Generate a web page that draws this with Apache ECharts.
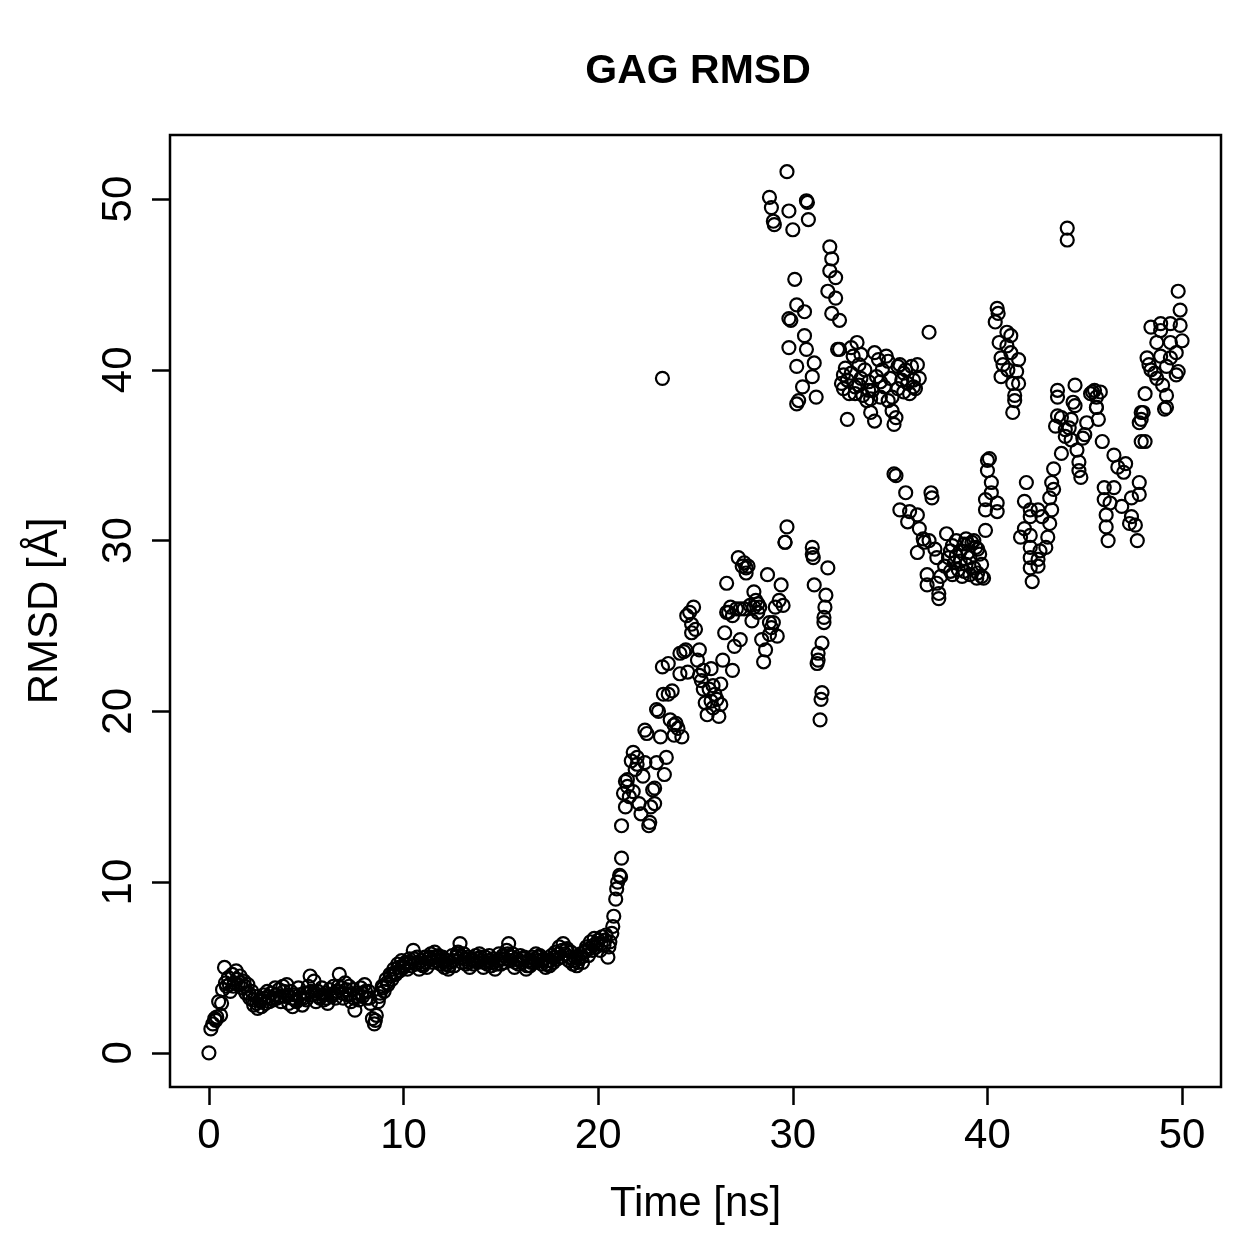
<!DOCTYPE html>
<html>
<head>
<meta charset="utf-8">
<title>GAG RMSD</title>
<script src="https://cdn.jsdelivr.net/npm/echarts@6/dist/echarts.min.js"></script>
<style>
  html, body { margin: 0; padding: 0; background: #fff; }
  #chart { width: 1259px; height: 1259px; }
</style>
</head>
<body>
<div id="chart"></div>
<script>
// RMSD values, [time ns, RMSD A]
const equilibration = [
  [0.0,0.0],[0.1,1.4],[0.2,1.7],[0.3,2.0],[0.4,2.1],[0.5,3.0],[0.6,2.2],[0.7,3.7],[0.8,5.0],[0.9,3.9],
  [1.0,4.4],[1.1,3.6],[1.2,4.6],[1.3,4.1],[1.4,4.8],[1.5,4.0],[1.6,4.5],[1.7,3.8],[1.8,4.2],[1.9,3.5],
  [2.0,4.0],[2.1,3.2],[2.2,3.6],[2.3,2.8],[2.4,3.3],[2.5,2.6],[2.6,3.1],[2.7,2.7],[2.8,3.4],[2.9,2.9],
  [3.0,3.6],[3.1,3.0],[3.2,3.5],[3.3,3.1],[3.4,3.8],[3.5,3.2],[3.6,3.7],[3.7,3.0],[3.8,3.9],[3.9,3.3],
  [4.0,4.0],[4.1,2.9],[4.2,3.6],[4.3,2.7],[4.4,3.4],[4.5,3.0],[4.6,3.8],[4.7,3.2],[4.8,2.8],[4.9,3.5],
  [5.0,3.1],[5.1,3.9],[5.2,4.5],[5.3,3.4],[5.4,4.2],[5.5,3.0],[5.6,3.6],[5.7,3.2],[5.8,3.8],[5.9,3.1],
  [6.0,3.5],[6.1,2.9],[6.2,3.7],[6.3,3.3],[6.4,3.9],[6.5,3.2],[6.6,3.6],[6.7,4.6],[6.8,3.8],[6.9,3.2],
  [7.0,4.1],[7.1,3.4],[7.2,3.9],[7.3,3.0],[7.4,3.7],[7.5,2.5],[7.6,3.5],[7.7,3.1],[7.8,3.8],[7.9,3.3],
  [8.0,4.0],[8.1,3.2],[8.2,3.6],[8.3,2.9],[8.4,2.0],[8.5,1.7],[8.6,2.2],[8.7,3.0],[8.8,3.5],[8.9,3.9],
  [9.0,3.6],[9.1,4.3],[9.2,4.0],[9.3,4.6],[9.4,4.3],[9.5,4.9],[9.6,4.6],[9.7,5.2],[9.8,4.8],[9.9,5.4],
  [10.0,5.0],[10.1,5.3],[10.2,4.9],[10.3,5.5],[10.4,5.1],[10.5,6.0],[10.6,5.2],[10.7,5.6],[10.8,4.9],[10.9,5.4],
  [11.0,5.1],[11.1,5.6],[11.2,5.0],[11.3,5.5],[11.4,5.8],[11.5,5.3],[11.6,5.9],[11.7,5.4],[11.8,5.7],[11.9,5.2],
  [12.0,5.6],[12.1,5.0],[12.2,5.4],[12.3,4.9],[12.4,5.3],[12.5,5.7],[12.6,5.1],[12.7,5.6],[12.8,5.9],[12.9,6.4],
  [13.0,5.3],[13.1,5.8],[13.2,5.2],[13.3,5.6],[13.4,5.0],[13.5,5.5],[13.6,5.2],[13.7,5.7],[13.8,5.3],[13.9,5.8],
  [14.0,5.4],[14.1,5.0],[14.2,5.6],[14.3,5.2],[14.4,5.7],[14.5,5.1],[14.6,5.5],[14.7,4.9],[14.8,5.4],[14.9,5.8],
  [15.0,5.2],[15.1,5.7],[15.2,5.3],[15.3,6.0],[15.4,6.4],[15.5,5.4],[15.6,5.8],[15.7,5.0],[15.8,5.5],[15.9,5.2],
  [16.0,5.7],[16.1,5.3],[16.2,5.6],[16.3,4.9],[16.4,5.4],[16.5,5.1],[16.6,5.6],[16.7,5.3],[16.8,5.8],[16.9,5.4],
  [17.0,5.7],[17.1,5.2],[17.2,5.5],[17.3,5.0],[17.4,5.4],[17.5,5.1],[17.6,5.7],[17.7,5.3],[17.8,5.9],[17.9,5.5],
  [18.0,6.2],[18.1,5.6],[18.2,6.4],[18.3,5.8],[18.4,6.1],[18.5,5.4],[18.6,5.9],[18.7,5.2],[18.8,5.6],[18.9,5.1],
  [19.0,5.5],[19.1,5.8],[19.2,5.3],[19.3,5.9],[19.4,6.2],[19.5,5.7],[19.6,6.5],[19.7,6.0],[19.8,6.7],[19.9,6.2],
  [20.0,6.6],[20.1,6.0],[20.2,6.8],[20.3,6.3],[20.4,6.9],[20.5,5.6],[20.6,6.5],[20.7,7.0],[20.8,8.0],[20.9,9.0],
  [21.0,10.0],[21.1,10.4],[21.2,11.4]
];

// in-between frames of the same stretch (band edges)
const equilibrationMid = [
  [0.35,1.9],[0.65,2.9],[0.85,4.1],[1.05,4.0],[1.25,3.9],[1.45,4.3],[1.65,4.1],[1.85,3.9],[2.05,3.5],[2.25,3.1],
  [2.45,2.9],[2.65,3.0],[2.85,3.2],[3.05,3.3],[3.25,3.2],[3.45,3.4],[3.65,3.3],[3.85,3.6],[4.05,3.4],[4.25,3.2],
  [4.45,3.1],[4.65,3.4],[4.85,3.2],[5.05,3.5],[5.25,3.6],[5.45,3.5],[5.65,3.3],[5.85,3.4],[6.05,3.2],[6.25,3.4],
  [6.45,3.5],[6.65,3.9],[6.85,3.5],[7.05,3.7],[7.25,3.4],[7.45,3.2],[7.65,3.3],[7.85,3.5],[8.05,3.6],[8.25,3.2],
  [8.55,1.9],[8.75,3.3],[8.95,3.8],[9.15,4.1],[9.35,4.5],[9.55,4.7],[9.75,5.0],[9.95,5.1],[10.15,5.2],[10.35,5.3],
  [10.55,5.5],[10.75,5.3],[10.95,5.2],[11.15,5.3],[11.35,5.6],[11.55,5.6],[11.75,5.6],[11.95,5.4],[12.15,5.2],[12.35,5.1],
  [12.55,5.4],[12.75,5.8],[12.95,5.6],[13.15,5.5],[13.35,5.3],[13.55,5.4],[13.75,5.5],[13.95,5.6],[14.15,5.3],[14.35,5.4],
  [14.55,5.3],[14.75,5.2],[14.95,5.5],[15.15,5.5],[15.35,5.8],[15.55,5.6],[15.75,5.3],[15.95,5.4],[16.15,5.5],[16.35,5.1],
  [16.55,5.3],[16.75,5.5],[16.95,5.6],[17.15,5.4],[17.35,5.2],[17.55,5.4],[17.75,5.6],[17.95,5.8],[18.15,6.0],[18.35,6.0],
  [18.55,5.6],[18.75,5.4],[18.95,5.3],[19.15,5.6],[19.35,6.0],[19.55,6.1],[19.75,6.3],[19.95,6.4],[20.15,6.4],[20.35,6.6],
  [20.55,6.2],[20.75,7.4],[20.95,9.6],[21.15,10.3]
];

const rise = [
  [21.2,13.3],[21.3,15.2],[21.4,15.9],[21.4,14.4],[21.5,16.0],[21.6,15.0],[21.7,17.1],[21.8,17.6],[21.9,16.6],
  [22.0,17.3],[22.1,14.6],[22.2,14.0],[22.3,16.2],[22.4,18.9],[22.5,18.7],[22.6,13.3],[22.65,13.5],[22.7,14.4],
  [22.8,15.4],[22.9,15.5],[23.0,17.0],[23.1,20.0],[23.2,18.5],[23.3,22.6],[23.35,21.0],[23.4,16.3],[23.5,17.3],
  [23.6,22.8],[23.7,19.5],[23.8,21.2],[23.9,18.6],[24.0,19.3],[24.1,19.0],[24.2,22.2],[24.3,18.5],[24.4,23.5],
  [24.5,23.6],[24.55,25.6],[24.7,25.8],[24.8,24.6],[24.9,26.1],[25.0,24.8],[25.1,23.0],[25.2,23.6],[25.3,21.8],
  [25.4,21.3],[25.5,20.5],[25.6,19.8],[25.7,21.3],[25.8,22.5],[25.9,20.2],[26.0,21.0],[26.1,20.7],[26.2,19.7],
  [26.3,21.6],[26.4,23.0],[26.5,24.6],[26.6,27.5],[26.7,25.8],[26.8,26.1],[26.9,22.4],[27.0,23.8],[27.1,26.0],
  [27.2,29.0],[27.3,24.2],[27.4,28.5],[27.5,28.7],[27.6,28.1],[27.7,28.5],[27.8,26.2],[27.9,25.3],[28.0,27.0],
  [28.1,26.5],[28.2,25.8],[28.3,26.1],[28.4,24.2],[28.5,22.9],[28.6,23.6],[28.7,28.0],[28.8,24.5],[28.9,24.9],
  [29.0,25.2],[29.1,26.1],[29.2,24.4],[29.3,26.5],[29.4,27.4],[29.5,26.2],[29.6,29.9],[29.7,30.8],
  [21.8,15.3],[22.4,17.0],[23.0,20.1],[23.6,21.0],[24.2,23.4],[24.8,25.1],[25.4,22.4],[25.9,21.5],
  [26.6,25.8],[27.3,26.0],[27.6,28.4],[28.2,26.3],[28.8,25.2],[21.5,15.6],[22.0,16.9],[22.9,14.6],
  [23.9,19.2],[24.6,22.3],[25.2,22.1],[25.8,20.6],[26.3,20.4],[26.9,25.6],[27.5,26.0],[28.0,26.1]
];

const isolated = [[23.3,39.5]];

const upperStates = [
  [28.8,50.1],[28.9,49.5],[29.0,48.7],[29.05,48.5],[29.7,51.6],[29.8,49.3],[30.0,48.2],[30.1,45.3],
  [30.2,43.8],[30.6,43.4],[29.8,43.0],[29.9,42.9],[30.6,42.0],[29.8,41.3],[30.7,41.2],[31.1,40.4],
  [30.2,40.2],[31.0,39.6],[30.5,39.0],[30.3,38.2],[30.2,38.0],[31.2,38.4],[30.7,49.9],[30.8,48.8],
  [30.75,49.8],[31.9,47.2],[32.0,46.5],[31.9,45.8],[32.2,45.4],[31.8,44.6],[32.2,44.2],[32.0,43.3],
  [32.4,42.9],[32.3,41.2],[32.8,37.1],
  [32.4,41.2],[32.5,39.2],[32.6,38.9],[32.7,40.1],[32.8,39.4],[32.9,38.6],[33.0,39.8],[33.1,40.8],
  [33.2,39.0],[33.3,41.6],[33.4,40.3],[33.5,39.5],[33.6,38.5],[33.7,40.0],[33.8,38.2],[33.9,39.3],
  [34.0,37.5],[34.1,38.8],[34.2,37.0],[34.3,39.6],[34.4,40.6],[34.5,38.4],[34.6,40.0],[34.7,39.0],
  [34.8,40.8],[34.9,38.2],[35.0,39.5],[35.1,37.6],[35.2,36.8],[35.3,37.2],[35.4,38.9],[35.5,40.3],
  [35.6,39.4],[35.7,38.7],[35.8,40.0],[35.9,39.2],[36.0,38.6],[36.1,40.2],[36.2,39.0],[36.3,38.9],
  [36.4,40.3],[36.5,39.5],[33.5,40.9],[34.2,41.0],[34.9,40.5],[35.4,40.2],[33.0,41.3],[32.6,39.7],
  [33.2,38.6],[33.9,38.8],[34.5,39.3],[35.1,38.4],[35.7,39.8],[36.2,39.4],[34.0,38.3],[33.4,39.1],
  [37.0,42.2],
  [40.5,43.6],[40.55,43.3],[40.4,42.8],[41.0,42.2],[40.6,41.6],[41.0,41.4],[40.7,40.7],[41.6,40.6],
  [41.05,40.0],[40.7,39.6],[41.5,39.9],[41.3,39.2],[41.6,39.2],[41.4,38.5],[41.4,38.2],[41.3,37.5],
  [40.8,40.3],[41.2,41.0],[41.2,42.0],
  [44.1,48.3],[44.1,47.6],
  [43.6,38.8],[43.6,38.4],[44.5,39.1],[44.4,38.1],[45.5,38.8],[45.6,38.4],[45.6,37.8],
  [49.8,44.6],[49.9,43.5],[48.4,42.5],[48.9,42.7],[48.9,42.3],[49.4,42.7],[49.9,42.6],[50.0,41.7],
  [48.7,41.6],[49.4,41.6],[49.7,41.0],[48.2,40.7],[48.9,40.8],[49.4,40.7],[48.4,40.0],[49.2,40.2],
  [49.7,39.7],[48.7,39.5],[49.0,39.1],[48.1,38.6],[49.2,38.5],[49.2,37.8],[48.0,37.5],[48.6,39.8],
  [49.8,39.9],[48.3,40.3]
];

const lowerStates = [
  [29.6,29.9],[31.0,29.6],[31.0,29.2],[31.05,29.0],[31.8,28.4],[31.1,27.4],[31.7,26.8],[31.65,26.1],
  [31.6,25.5],[31.6,25.2],[31.5,24.0],[31.3,23.4],[31.3,23.0],[31.25,22.8],[31.5,21.1],[31.45,20.7],[31.4,19.5],
  [35.2,33.9],[35.3,33.8],[35.8,32.8],[35.5,31.8],[36.0,31.7],[36.4,31.5],[35.9,31.1],[36.5,30.7],
  [36.7,30.1],[36.75,29.9],[37.0,30.0],[36.4,29.3],[37.3,29.5],[37.4,29.0],[36.9,28.0],[36.9,27.4],
  [37.4,27.5],[37.5,26.9],[37.5,26.6],[37.6,27.9],[37.9,30.4],[37.1,32.8],[37.15,32.5],[37.8,28.5],
  [38.0,29.0],[38.1,28.2],[38.2,29.7],[38.3,28.7],[38.4,30.0],[38.5,28.3],[38.6,29.4],[38.7,27.9],
  [38.8,29.8],[38.9,28.6],[39.0,29.3],[39.1,28.0],[39.2,29.9],[39.3,28.4],[39.4,29.6],[39.5,28.1],
  [39.6,29.2],[39.7,27.9],[39.8,27.8],[39.9,30.6],[38.2,28.0],[38.6,28.8],[39.1,29.0],[39.3,30.0],
  [39.45,27.8],[38.9,30.1],[38.4,29.1],[38.8,28.2],[39.0,29.8],[39.5,29.5],[38.1,29.4],[39.7,28.6],
  [40.0,34.7],[40.0,34.1],[40.2,33.4],[40.2,32.8],[39.9,32.4],[39.9,31.8],[40.5,32.2],[40.5,31.7],
  [40.1,34.8],
  [42.0,33.4],[41.9,32.3],[42.2,31.8],[42.2,31.4],[42.6,31.8],[42.8,31.4],[41.9,30.7],[41.7,30.2],
  [42.2,30.3],[42.2,29.6],[42.7,29.4],[43.0,29.6],[42.2,29.0],[42.6,28.9],[42.2,28.4],[42.6,28.5],
  [42.3,27.6],[43.1,30.2],[43.2,31.0],[43.3,31.8],[43.2,32.5],[43.4,33.0],[43.3,33.4],[43.4,34.2],
  [43.8,35.1],[43.5,36.7],[43.8,37.2],[43.6,37.3],[44.0,36.5],[44.0,36.1],[44.3,35.9],[44.3,37.1],
  [44.5,37.9],[44.6,35.3],[44.7,34.6],[44.7,34.1],[44.8,33.7],[45.0,36.2],[45.1,36.9],[45.7,37.1],
  [45.6,37.8],[45.9,35.8],[46.5,35.0],[46.7,34.3],[47.1,34.5],[47.0,34.0],[46.0,33.1],[46.5,33.1],
  [46.0,32.4],[46.1,31.5],[46.1,30.8],[46.2,30.0],[46.3,32.2],[46.9,32.0],[47.4,32.5],[47.8,33.4],
  [47.8,32.7],[47.4,31.4],[47.3,31.0],[47.6,30.9],[47.7,30.0],[47.9,37.5],[47.9,37.1],[47.8,36.9],
  [48.1,35.8],[47.9,35.8],[49.1,37.7],[45.3,38.6],[45.4,38.7],[45.8,38.7],[44.2,36.6],[44.9,36.0]
];

const xTicks = [0, 10, 20, 30, 40, 50];
const yTicks = [0, 10, 20, 30, 40, 50];

const chart = echarts.init(document.getElementById('chart'));
const font = 'Liberation Sans, Arial, Helvetica, sans-serif';

const points = equilibration.concat(equilibrationMid, rise, isolated, upperStates, lowerStates);

chart.setOption({
  animation: false,
  backgroundColor: '#ffffff',
  title: {
    text: 'GAG RMSD',
    left: 693,
    top: 46,
    textAlign: 'center',
    textStyle: { fontFamily: font, fontSize: 41, fontWeight: 'bold', color: '#000' }
  },
  grid: {
    left: 170, right: 38, top: 135, bottom: 172,
    show: true, borderColor: '#000', borderWidth: 2.5, backgroundColor: 'transparent'
  },
  xAxis: {
    type: 'value',
    min: -2, max: 52,
    name: 'Time [ns]',
    nameLocation: 'middle',
    nameGap: 96,
    nameTextStyle: { fontFamily: font, fontSize: 42, color: '#000' },
    axisLine: { show: false, onZero: false },
    splitLine: { show: false },
    axisTick: { show: true, length: 18, inside: false, customValues: xTicks,
      lineStyle: { color: '#000', width: 2.5 } },
    axisLabel: { customValues: xTicks, margin: 28, fontFamily: font, fontSize: 42, color: '#000' }
  },
  yAxis: {
    type: 'value',
    min: -2, max: 53.75,
    name: 'RMSD [Å]',
    nameLocation: 'middle',
    nameGap: 104,
    nameTextStyle: { fontFamily: font, fontSize: 42, color: '#000' },
    axisLine: { show: false, onZero: false },
    splitLine: { show: false },
    axisTick: { show: true, length: 18, inside: false, customValues: yTicks,
      lineStyle: { color: '#000', width: 2.5 } },
    axisLabel: { customValues: yTicks, rotate: 90, margin: 30, fontFamily: font, fontSize: 42, color: '#000' }
  },
  series: [{
    type: 'scatter',
    data: points,
    symbol: 'circle',
    symbolSize: 13,
    itemStyle: { color: 'rgba(0,0,0,0)', borderColor: '#000', borderWidth: 2.2, opacity: 1 },
    emphasis: { disabled: true }
  }]
});
</script>
</body>
</html>
